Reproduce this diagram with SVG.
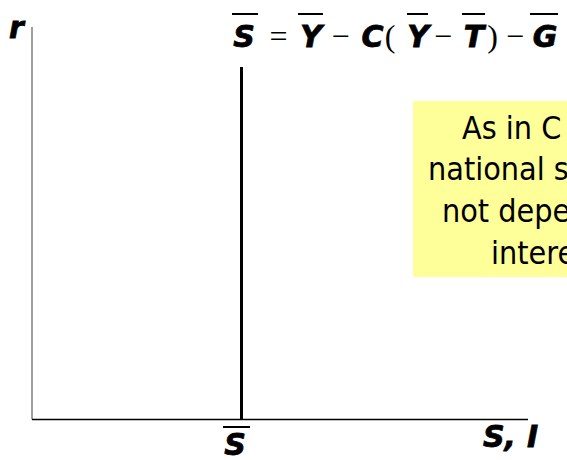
<svg xmlns="http://www.w3.org/2000/svg" width="567" height="460" viewBox="0 0 567 460">
<style>
.v{font-family:"DejaVu Sans","Verdana",sans-serif;font-weight:bold;font-style:italic;font-size:30px;fill:#000;stroke:#000;stroke-width:0.8}
.op{font-family:"Liberation Serif","Times New Roman",serif;font-size:32px;fill:#000}
.bar{stroke:#000;stroke-width:2}
.note{font-family:"DejaVu Sans Condensed","DejaVu Sans",sans-serif;font-size:32px;fill:#000}
</style>
<rect width="567" height="460" fill="#fff"/>
<g id="axes">
<line x1="32" y1="27" x2="32" y2="419.5" stroke="#7f7f7f" stroke-width="1.5"/>
<line x1="32" y1="419.5" x2="528" y2="419.5" stroke="#000" stroke-width="1.5"/>
</g>
<g id="connectors">
<line id="saving-line" x1="241.5" y1="67" x2="241.5" y2="419" stroke="#000" stroke-width="3"/>
</g>
<g id="axis-labels">
<text class="v" x="9" y="38" font-size="34">r</text>
<text class="v" x="235" y="455" text-anchor="middle">S</text>
<line class="bar" x1="223" y1="427" x2="250" y2="427"/>
<text class="v" x="483" y="447">S,<tspan x="527">I</tspan></text>
</g>
<g id="equation">
<text class="v" x="244" y="47" text-anchor="middle">S</text>
<line class="bar" x1="232" y1="14" x2="258" y2="14"/>
<text class="op" x="278.5" y="47" text-anchor="middle">=</text>
<text class="v" x="311" y="47" text-anchor="middle">Y</text>
<line class="bar" x1="298" y1="14" x2="323" y2="14"/>
<text class="op" x="340.5" y="47" text-anchor="middle">−</text>
<text class="v" x="372.5" y="47" text-anchor="middle">C</text>
<text class="op" x="390" y="47" text-anchor="middle" font-size="30">(</text>
<text class="v" x="418" y="47" text-anchor="middle">Y</text>
<line class="bar" x1="407" y1="14" x2="428" y2="14"/>
<text class="op" x="443" y="47" text-anchor="middle">−</text>
<text class="v" x="474" y="47" text-anchor="middle">T</text>
<line class="bar" x1="462" y1="14" x2="485" y2="14"/>
<text class="op" x="492.5" y="47" text-anchor="middle" font-size="30">)</text>
<text class="op" x="515" y="47" text-anchor="middle">−</text>
<text class="v" x="545" y="47" text-anchor="middle">G</text>
<line class="bar" x1="530" y1="14" x2="558" y2="14"/>
</g>
<g id="note">
<rect x="413" y="101" width="160" height="176" fill="#ffff99"/>
<text class="note" x="462" y="139">As in C</text>
<text class="note" x="428" y="180">national s</text>
<text class="note" x="442" y="222">not depe</text>
<text class="note" x="491" y="264">intere</text>
</g>
</svg>
